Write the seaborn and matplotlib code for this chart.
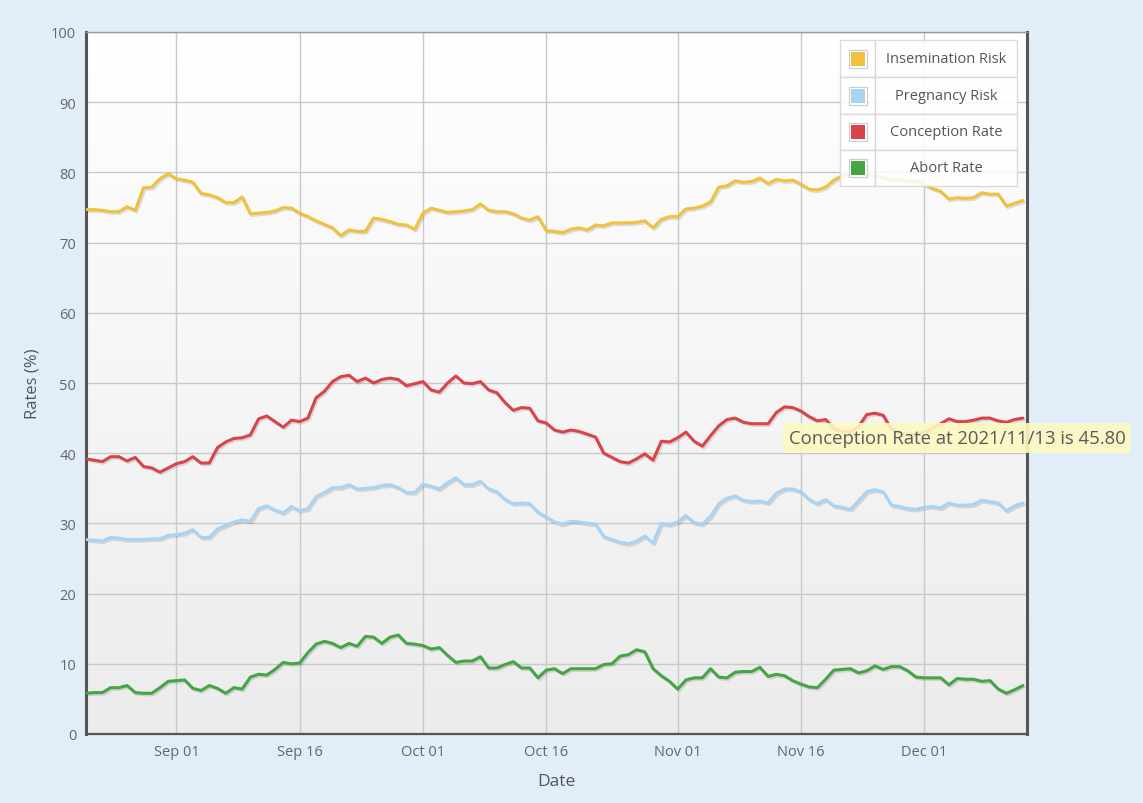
import numpy as np
import pandas as pd
import matplotlib
matplotlib.use("Agg")
import matplotlib.pyplot as plt
import matplotlib.dates as mdates
import matplotlib.patheffects as pe
from matplotlib.patches import Rectangle
import seaborn as sns

# ---------------- data ----------------
start_date = "2021-08-21"
n_days = 115
series_names = ["Insemination Risk", "Pregnancy Risk", "Conception Rate", "Abort Rate"]
series_colors = ["#f0c13c", "#a9d3f3", "#d9444b", "#45a545"]

insemination = [
    74.7, 74.7, 74.6, 74.4, 74.4, 75.1, 74.6, 77.8, 77.9, 79.1,
    79.8, 79.1, 78.9, 78.6, 77.0, 76.8, 76.4, 75.7, 75.7, 76.5,
    74.1, 74.2, 74.3, 74.5, 75.0, 74.9, 74.2, 73.7, 73.1, 72.6,
    72.1, 71.0, 71.8, 71.6, 71.6, 73.5, 73.3, 73.0, 72.6, 72.5,
    71.9, 74.2, 74.9, 74.6, 74.3, 74.4, 74.5, 74.7, 75.5, 74.6,
    74.4, 74.4, 74.1, 73.5, 73.2, 73.7, 71.7, 71.6, 71.4, 71.9,
    72.1, 71.8, 72.5, 72.4, 72.8, 72.8, 72.8, 72.9, 73.1, 72.1,
    73.3, 73.7, 73.7, 74.8, 74.9, 75.2, 75.8, 77.9, 78.1, 78.8,
    78.6, 78.7, 79.2, 78.4, 79.0, 78.8, 78.9, 78.3, 77.6, 77.5,
    77.9, 78.9, 79.5, 79.8, 79.6, 79.8, 79.5, 79.3, 79.0, 79.0,
    78.8, 78.8, 78.3, 77.7, 77.3, 76.2, 76.4, 76.3, 76.4, 77.1,
    76.9, 76.9, 75.2, 75.6, 76.0,
]
pregnancy = [
    27.7, 27.6, 27.5, 28.0, 27.9, 27.7, 27.7, 27.7, 27.8, 27.8,
    28.3, 28.4, 28.6, 29.1, 28.0, 28.0, 29.2, 29.7, 30.2, 30.5,
    30.3, 32.1, 32.5, 31.9, 31.5, 32.4, 31.8, 32.1, 33.8, 34.4,
    35.1, 35.1, 35.5, 34.9, 35.0, 35.1, 35.4, 35.5, 35.1, 34.4,
    34.4, 35.6, 35.3, 34.9, 35.8, 36.5, 35.5, 35.5, 36.0, 34.9,
    34.5, 33.4, 32.8, 32.9, 32.8, 31.6, 30.9, 30.2, 29.9, 30.3,
    30.2, 30.0, 29.9, 28.1, 27.7, 27.3, 27.1, 27.5, 28.2, 27.2,
    30.0, 29.8, 30.2, 31.1, 30.1, 29.9, 31.0, 32.8, 33.6, 33.9,
    33.3, 33.1, 33.2, 32.9, 34.3, 34.9, 34.9, 34.5, 33.4, 32.8,
    33.4, 32.5, 32.3, 32.0, 33.2, 34.5, 34.8, 34.5, 32.6, 32.4,
    32.1, 32.0, 32.3, 32.4, 32.2, 32.9, 32.6, 32.6, 32.7, 33.3,
    33.1, 32.9, 31.8, 32.5, 32.9,
]
conception = [
    39.2, 39.0, 38.8, 39.5, 39.5, 38.9, 39.4, 38.1, 37.9, 37.3,
    37.9, 38.5, 38.8, 39.5, 38.6, 38.6, 40.8, 41.6, 42.1, 42.2,
    42.6, 44.9, 45.3, 44.5, 43.7, 44.7, 44.5, 45.0, 47.9, 48.8,
    50.2, 50.9, 51.1, 50.2, 50.7, 50.0, 50.5, 50.7, 50.5, 49.6,
    49.9, 50.2, 49.0, 48.7, 50.0, 51.0, 50.0, 49.9, 50.2, 49.0,
    48.6, 47.2, 46.1, 46.5, 46.4, 44.6, 44.3, 43.3, 43.0, 43.3,
    43.1, 42.7, 42.3, 40.0, 39.4, 38.8, 38.6, 39.2, 39.9, 39.0,
    41.7, 41.6, 42.2, 43.0, 41.7, 41.0, 42.5, 43.9, 44.8, 45.0,
    44.4, 44.2, 44.2, 44.2, 45.8, 46.6, 46.5, 46.0, 45.2, 44.6,
    44.8, 43.5, 43.1, 43.0, 43.8, 45.5, 45.7, 45.4, 43.4, 42.9,
    42.7, 42.8, 43.0, 43.5, 44.2, 44.9, 44.5, 44.5, 44.7, 45.0,
    45.0, 44.6, 44.4, 44.8, 45.0,
]
abort = [
    5.8, 5.9, 5.9, 6.6, 6.6, 6.9, 5.9, 5.8, 5.8, 6.6,
    7.5, 7.6, 7.7, 6.5, 6.2, 6.9, 6.5, 5.8, 6.6, 6.4,
    8.1, 8.5, 8.4, 9.2, 10.2, 10.0, 10.1, 11.6, 12.8, 13.2,
    12.9, 12.3, 12.9, 12.5, 13.9, 13.8, 12.9, 13.8, 14.1, 12.9,
    12.8, 12.6, 12.1, 12.3, 11.2, 10.2, 10.4, 10.4, 11.0, 9.4,
    9.4, 9.9, 10.3, 9.4, 9.4, 8.0, 9.1, 9.3, 8.6, 9.3,
    9.3, 9.3, 9.3, 9.9, 10.0, 11.1, 11.3, 12.0, 11.7, 9.3,
    8.3, 7.5, 6.4, 7.7, 8.0, 8.0, 9.3, 8.1, 8.0, 8.8,
    8.9, 8.9, 9.5, 8.2, 8.5, 8.3, 7.6, 7.1, 6.7, 6.6,
    7.8, 9.1, 9.2, 9.3, 8.7, 9.0, 9.7, 9.2, 9.6, 9.6,
    9.0, 8.1, 8.0, 8.0, 8.0, 7.0, 7.9, 7.8, 7.8, 7.5,
    7.6, 6.4, 5.8, 6.3, 6.9,
]
y_ticks = [0, 10, 20, 30, 40, 50, 60, 70, 80, 90, 100]
x_tick_dates = ["2021-09-01", "2021-09-16", "2021-10-01", "2021-10-16",
                "2021-11-01", "2021-11-16", "2021-12-01"]
tooltip_text = "Conception Rate at 2021/11/13 is 45.80"

dates = pd.date_range(start_date, periods=n_days, freq="D")
df = pd.concat([
    pd.DataFrame({"Date": dates, "Rate": vals, "Series": name})
    for name, vals in zip(series_names, [insemination, pregnancy, conception, abort])
], ignore_index=True)

# ---------------- style ----------------
sns.set_theme(style="white")
plt.rcParams["font.family"] = ["Open Sans", "DejaVu Sans"]

W, H = 1143, 804
fig = plt.figure(figsize=(W / 100, H / 100), dpi=100)
fig.patch.set_facecolor("#e1eefa")

L, R, T, B = 86, 1027, 33, 735
ax = fig.add_axes([L / W, 1 - B / H, (R - L) / W, (B - T) / H])

# gradient plot background
grad = np.linspace(1.0, 0.0, 256).reshape(-1, 1)
top_c = np.array([1.0, 1.0, 1.0])
bot_c = np.array([0.925, 0.925, 0.925])
img = grad[..., None] * top_c + (1 - grad[..., None]) * bot_c
ax.imshow(img, extent=[0, 1, 0, 1], transform=ax.transAxes, aspect="auto",
          zorder=0, interpolation="bicubic")

sns.lineplot(data=df, x="Date", y="Rate", hue="Series", hue_order=series_names,
             palette=series_colors, linewidth=2.2, ax=ax, legend=False, zorder=3)

for line in ax.get_lines():
    line.set_path_effects([pe.SimpleLineShadow(offset=(1, -1.2), shadow_color="black", alpha=0.12),
                           pe.Normal()])
    line.set_solid_joinstyle("round")

ax.set_ylim(0, 100)
ax.set_xlim(pd.Timestamp(start_date), dates[-1] + pd.Timedelta(hours=12))
ax.set_yticks(y_ticks)
ax.set_xticks(pd.to_datetime(x_tick_dates))
ax.xaxis.set_major_formatter(mdates.DateFormatter("%b %d"))
ax.grid(True, color="#c9c9c9", linewidth=1.0, zorder=1)
ax.set_axisbelow(True)
ax.tick_params(axis="both", length=0, labelsize=10.5, colors="#666666", pad=7)
ax.set_xlabel("Date", fontsize=12.5, color="#555555", labelpad=10)
ax.set_ylabel("Rates (%)", fontsize=12, color="#555555", labelpad=8)

for side, sp in ax.spines.items():
    sp.set_visible(True)
    sp.set_color("#555555")
    sp.set_linewidth(2.2 if side in ("left", "right") else 1.6)
ax.spines["top"].set_color("#9a9a9a")
ax.spines["top"].set_linewidth(1.0)

# custom table-like legend
def ax_x(px):
    return (px - L) / (R - L)

def ax_y(py):
    return (B - py) / (B - T)

rows = [(41, 78), (78, 115), (115, 151), (151, 187)]
lx0, lx1, ldiv = 840, 1017, 875
for (y0, y1), name, color in zip(rows, series_names, series_colors):
    ax.add_patch(Rectangle((ax_x(lx0), ax_y(y1)), ax_x(lx1) - ax_x(lx0), ax_y(y0) - ax_y(y1),
                           transform=ax.transAxes, facecolor="white", edgecolor="#d6d6d6",
                           linewidth=1.0, alpha=0.85, zorder=5))
    ax.plot([ax_x(ldiv), ax_x(ldiv)], [ax_y(y1), ax_y(y0)], transform=ax.transAxes,
            color="#d6d6d6", linewidth=1.0, zorder=6)
    cy = (y0 + y1) / 2
    cx = (lx0 + ldiv) / 2
    s = 14
    ax.add_patch(Rectangle((ax_x(cx - s / 2 - 2), ax_y(cy + s / 2 + 2)),
                           ax_x(cx + s / 2 + 2) - ax_x(cx - s / 2 - 2),
                           ax_y(cy - s / 2 - 2) - ax_y(cy + s / 2 + 2),
                           transform=ax.transAxes, facecolor="white", edgecolor="#cccccc",
                           linewidth=0.8, zorder=7))
    ax.add_patch(Rectangle((ax_x(cx - s / 2), ax_y(cy + s / 2)),
                           ax_x(cx + s / 2) - ax_x(cx - s / 2),
                           ax_y(cy - s / 2) - ax_y(cy + s / 2),
                           transform=ax.transAxes, facecolor=color, edgecolor="none",
                           zorder=8))
    ax.text(ax_x((ldiv + lx1) / 2), ax_y(cy), name, transform=ax.transAxes,
            ha="center", va="center", fontsize=10.5, color="#555555", zorder=9)

# tooltip
fig.text(789 / W, 1 - 439 / H, tooltip_text, ha="left", va="center",
         fontsize=13.3, color="#5a5a5a", zorder=10,
         bbox=dict(boxstyle="square,pad=0.3", facecolor="#fbf9c0", edgecolor="none", alpha=0.9))

fig.savefig("out.png", dpi=100, facecolor=fig.get_facecolor())
